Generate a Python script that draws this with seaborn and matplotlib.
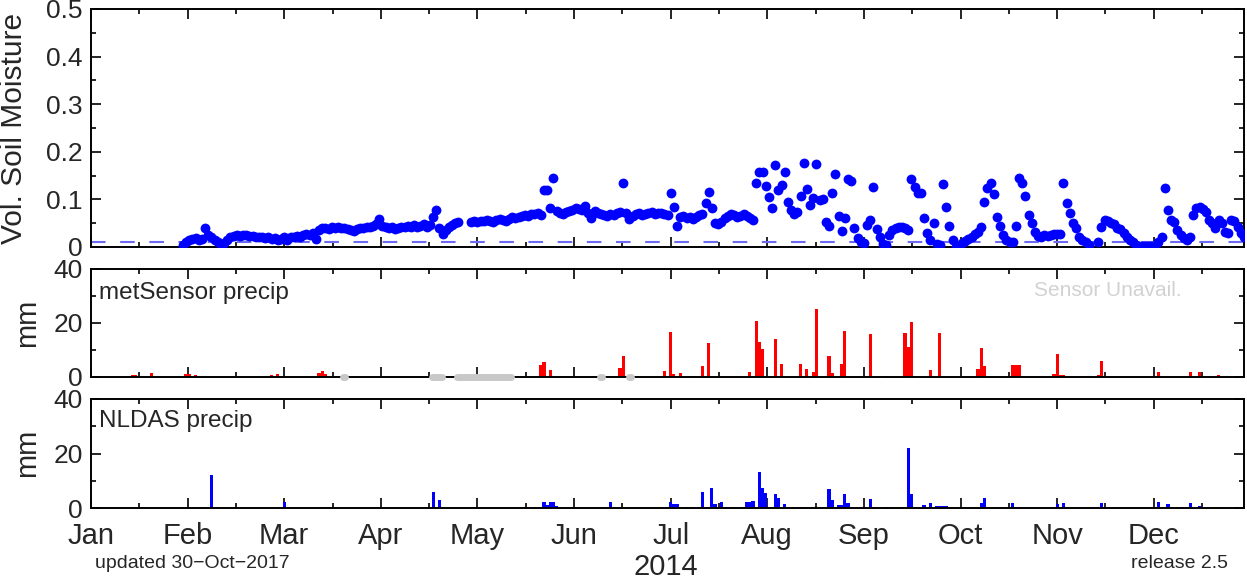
import numpy as np
import pandas as pd
import seaborn as sns
import matplotlib.pyplot as plt

# ---- data (2014, x = day of year, Jan 1 = 0) ----
months = ['Jan', 'Feb', 'Mar', 'Apr', 'May', 'Jun', 'Jul', 'Aug', 'Sep', 'Oct', 'Nov', 'Dec']

# volumetric soil moisture, one value per day from day 29 on (nan = missing)
sm_start = 29
sm_vals = [
    0.004, 0.010,                                                   # 29-30
    0.014, 0.016, 0.018, 0.015, 0.017, 0.040, 0.025, 0.020, 0.014,  # 31-39
    0.010, 0.004, 0.008, 0.015, 0.020, 0.024, 0.026,                # 40-46
    0.024, 0.026, 0.025, 0.023, 0.024, 0.021, 0.020, 0.022, 0.018, 0.020,  # 47-56
    0.016, 0.018, 0.014, 0.017, 0.020, 0.015,                       # 57-62
    0.020, 0.022, 0.024, 0.021, 0.025, 0.028, 0.026, 0.029, 0.016,  # 63-71
    0.036, 0.039, 0.040, 0.038, 0.041, 0.040, 0.043, 0.039, 0.040, 0.038,  # 72-81
    0.036, 0.033, 0.037, 0.040, 0.039, 0.041, 0.042, 0.045, 0.048, 0.058,  # 82-91
    0.044, 0.041, 0.040, 0.042, 0.038, 0.040, 0.042, 0.041,         # 92-99
    0.044, 0.043, 0.046, 0.042, 0.045, 0.048, 0.043, 0.047,         # 100-107
    0.062, 0.078, 0.040, 0.028, 0.036, 0.042, 0.046, 0.050, 0.052,  # 108-116
    np.nan, np.nan, np.nan,                                         # 117-119
    0.052, 0.054, 0.053, 0.055, 0.054, 0.056, 0.055, 0.053, 0.056, 0.058,  # 120-129
    0.057, 0.055, 0.059, 0.062, 0.060, 0.063, 0.065, 0.068, 0.066, 0.070,  # 130-139
    0.070, 0.072, 0.068, 0.120, 0.120, 0.082, 0.144,                # 140-146
    0.075, 0.072, 0.070, 0.073, 0.076, 0.078, 0.082, 0.080, 0.078, 0.086, 0.072, 0.060,  # 147-158
    0.075, 0.072, 0.070, 0.068, 0.065, 0.070, 0.068, 0.072, 0.074, 0.134, 0.072,  # 159-169
    0.059, 0.066, 0.070, 0.072, 0.068, 0.070, 0.071, 0.073, 0.070, 0.072, 0.071, 0.070, 0.068,  # 170-182
    0.114, 0.084, 0.044,                                            # 183-185
    0.062, 0.066, 0.060, 0.064, 0.058, 0.062, 0.068, 0.070,         # 186-193
    0.093, 0.116, 0.081, 0.050, 0.048, 0.052,                       # 194-199
    0.060, 0.066, 0.070, 0.068, 0.064, 0.066, 0.070, 0.066, 0.060, 0.056,  # 200-209
    0.134, 0.158, 0.158, 0.128, 0.106, 0.082, 0.172, 0.120, 0.130, 0.158,  # 210-219
    0.095, 0.078, 0.070, 0.074, 0.107, 0.177, 0.122, 0.088, 0.103, 0.174,  # 220-229
    0.099, 0.100, 0.053, 0.044, 0.114, 0.153, 0.065, 0.034, 0.060, 0.142,  # 230-239
    0.139, 0.040, 0.019, 0.010, 0.008, 0.046, 0.057, 0.127, 0.038, 0.020,  # 240-249
    0.006, 0.005, 0.025, 0.036, 0.040, 0.042, 0.042, 0.040, 0.036, 0.143,  # 250-259
    0.127, 0.114, 0.113, 0.060, 0.030, 0.015, 0.050, 0.006, 0.004, 0.132,  # 260-269
    0.084, 0.044, 0.015, 0.001, 0.003, 0.008, 0.012, 0.016, 0.022, 0.027,  # 270-279
    0.032, 0.043, 0.095, 0.123, 0.135, 0.111, 0.064, 0.044, 0.025, 0.015,  # 280-289
    0.011, 0.010, 0.044, 0.146, 0.135, 0.107, 0.067, 0.051, 0.032, 0.024,  # 290-299
    0.022, 0.025, 0.023, 0.026, 0.028, 0.027, 0.027, 0.134, 0.093, 0.071,  # 300-309
    0.051, 0.039, 0.022, 0.015, 0.011, 0.004, np.nan, np.nan, 0.011, 0.043,  # 310-319
    0.057, 0.054, 0.050, 0.048, 0.040, 0.038, 0.030, 0.022, 0.015, 0.010,  # 320-329
    0.005, 0.003, 0.002, 0.003, 0.002, 0.003, 0.002, 0.010, 0.022, 0.123,  # 330-339
    0.078, 0.057, 0.053, 0.036, 0.025, 0.018, 0.015, 0.020, 0.067, 0.081,  # 340-349
    0.085, 0.080, 0.074, 0.057, 0.050, 0.039, 0.057, 0.050, 0.032, 0.029,  # 350-359
    0.057, 0.055, 0.043, 0.030, 0.022,                              # 360-364
]
wilting_point = 0.01

# metSensor daily precip (mm)
met_day = [11, 13, 14, 19, 30, 31, 33, 38, 41, 57, 59, 61, 72, 73, 74, 103,
           142, 143, 145, 149, 158, 163, 165, 167, 168, 181, 183, 184, 186, 189,
           190, 193, 195, 208, 210, 211, 212, 216, 218, 224, 226, 228, 229, 233,
           234, 237, 238, 246, 251, 253, 257, 258, 259, 260, 265, 268, 280, 281,
           282, 291, 292, 293, 302, 304, 305, 306, 307, 312, 314, 318, 319, 326,
           337, 340, 347, 350, 356, 359]
met_mm = [0.5, 0.8, 0.8, 1.5, 1.2, 1.0, 0.8, 0.4, 0.3, 0.6, 1.2, 0.5, 1.5, 2.2, 1.2, 0.4,
          4.4, 5.6, 2.5, 0.3, 0.3, 0.5, 0.4, 3.2, 7.7, 2.3, 16.5, 1.0, 1.5, 0.3,
          0.3, 4.0, 12.7, 1.8, 20.7, 13.0, 10.4, 14.0, 5.0, 4.7, 3.0, 2.0, 25.2, 7.8,
          1.5, 4.7, 17.0, 15.8, 0.5, 0.5, 16.2, 11.2, 20.5, 0.5, 2.5, 16.2, 2.8, 10.9,
          4.0, 4.4, 4.4, 4.4, 0.3, 1.2, 8.4, 0.8, 0.8, 0.4, 0.4, 0.7, 6.0, 0.3,
          2.0, 0.3, 1.8, 1.8, 0.7, 0.3]

# periods when the met sensor was unavailable (start, end day)
unavail_start = [79.6, 107.7, 115.6, 160.7, 169.9]
unavail_end = [80.1, 110.7, 132.5, 161.2, 170.4]

# NLDAS daily precip (mm)
nldas_day = [38, 61, 73, 74, 75, 108, 110, 137, 143, 144, 145, 146, 147, 164, 168,
             183, 184, 185, 188, 190, 193, 196, 197, 199, 201, 203, 207, 208, 209,
             211, 212, 213, 216, 217, 219, 222, 225, 226, 233, 234, 236, 237, 238,
             239, 246, 247, 251, 253, 255, 258, 259, 263, 265, 267, 268, 269, 270,
             281, 282, 291, 293, 305, 307, 319, 337, 340, 343, 344, 347, 350, 356]
nldas_mm = [12.1, 2.3, 0.5, 0.5, 0.4, 6.0, 3.0, 0.3, 2.3, 1.2, 2.3, 2.3, 0.6, 2.3, 0.3,
            2.3, 1.5, 1.5, 0.5, 0.5, 6.0, 7.2, 1.5, 2.3, 0.5, 0.5, 2.3, 2.3, 2.5,
            13.3, 7.2, 5.5, 5.0, 3.8, 1.5, 0.3, 0.4, 0.4, 7.0, 3.0, 1.0, 1.0, 5.0,
            2.0, 3.2, 0.5, 0.4, 0.4, 0.4, 22.1, 5.0, 1.0, 2.0, 0.8, 0.8, 0.8, 0.6,
            2.0, 3.5, 2.0, 0.3, 1.5, 2.0, 2.0, 2.3, 1.5, 0.5, 0.5, 2.0, 0.6, 0.4]

# ---- figure ----
sns.set_style('ticks')
plt.rcParams['font.family'] = ['Liberation Sans', 'DejaVu Sans']

W, H = 1247, 580
fig = plt.figure(figsize=(W / 100, H / 100), dpi=100)
ax1 = fig.add_axes([91 / W, 333 / H, 1153 / W, 238 / H])
ax2 = fig.add_axes([91 / W, 203 / H, 1153 / W, 108 / H])
ax3 = fig.add_axes([91 / W, 72 / H, 1153 / W, 109 / H])

sm = pd.DataFrame({'day': np.arange(sm_start, sm_start + len(sm_vals)), 'vsm': sm_vals})
sns.scatterplot(data=sm, x='day', y='vsm', ax=ax1, color='blue', s=50,
                linewidth=0, zorder=3)
ax1.axhline(wilting_point, color='#6a6af2', lw=1.5, dashes=(7, 7), zorder=2)

sns.barplot(x=met_day, y=met_mm, ax=ax2, native_scale=True, color='red',
            saturation=1, width=1, linewidth=0, errorbar=None)
ax2.hlines([0] * len(unavail_start), unavail_start, unavail_end, colors='#c8c8c8',
           linewidth=5, capstyle='round', zorder=5, clip_on=False)

sns.barplot(x=nldas_day, y=nldas_mm, ax=ax3, native_scale=True, color='blue',
            saturation=1, width=1, linewidth=0, errorbar=None)

month_pos = np.arange(12) * 30.5
for ax in (ax1, ax2, ax3):
    ax.set_xlim(0, 364)
    ax.set_xticks(month_pos)
    ax.set_xticks(month_pos + 15.25, minor=True)
    ax.tick_params(which='both', direction='in', top=True, right=True,
                   width=1.2, color='black', labelsize=19, pad=6)
    ax.tick_params(which='major', length=7)
    ax.tick_params(which='minor', length=3.5)
    ax.set_xlabel('')
    ax.set_ylabel('')
    for s in ax.spines.values():
        s.set_linewidth(1.4)
        s.set_color('black')

ax1.set_ylim(0, 0.5)
ax1.set_yticks([0, 0.1, 0.2, 0.3, 0.4, 0.5], ['0', '0.1', '0.2', '0.3', '0.4', '0.5'])
ax1.set_yticks([0.05, 0.15, 0.25, 0.35, 0.45], minor=True)
for ax in (ax2, ax3):
    ax.set_ylim(0, 40)
    ax.set_yticks([0, 20, 40], ['0', '20', '40'])
    ax.set_yticks([10, 30], minor=True)

ax1.tick_params(labelbottom=False)
ax2.tick_params(labelbottom=False)
ax3.set_xticklabels(months)
ax3.tick_params(axis='x', labelsize=21, pad=10)

# ---- texts ----
fig.text(14 / W, 1 - 128 / H, 'Vol. Soil Moisture', rotation=90, ha='center', va='center', fontsize=21.5)
fig.text(27 / W, 1 - 323 / H, 'mm', rotation=90, ha='center', va='center', fontsize=21)
fig.text(27 / W, 1 - 453 / H, 'mm', rotation=90, ha='center', va='center', fontsize=21)
fig.text(99 / W, 1 - 293 / H, 'metSensor precip', ha='left', va='center', fontsize=17.5)
fig.text(1182 / W, 1 - 291 / H, 'Sensor Unavail.', ha='right', va='center', fontsize=15, color='#d2d2d2')
fig.text(99 / W, 1 - 421 / H, 'NLDAS precip', ha='left', va='center', fontsize=17.5)
fig.text(666 / W, 1 - 567 / H, '2014', ha='center', va='center', fontsize=21)
fig.text(95 / W, 1 - 563 / H, 'updated 30\u2212Oct\u22122017', ha='left', va='center', fontsize=14)
fig.text(1228 / W, 1 - 563 / H, 'release 2.5', ha='right', va='center', fontsize=14)

fig.savefig('out.png', dpi=100, facecolor='white')
